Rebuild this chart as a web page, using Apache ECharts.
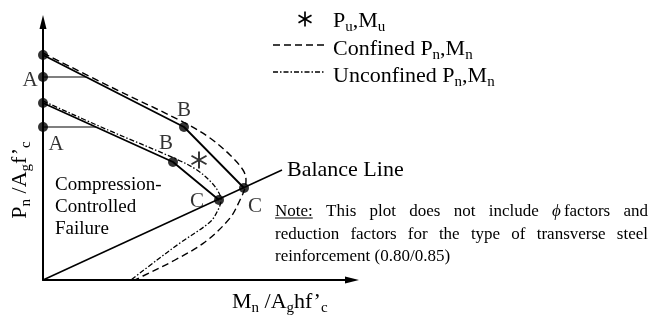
<!DOCTYPE html>
<html>
<head>
<meta charset="utf-8">
<script src="https://cdn.jsdelivr.net/npm/echarts@6/dist/echarts.min.js"></script>
<style>
html, body { margin: 0; padding: 0; background: #fff; }
#chart { width: 652px; height: 320px; }
</style>
</head>
<body>
<div id="chart"></div>
<script>
// P-M interaction sketch (no units on the axes)
const xMax = 3.09;
const yMax = 2.58;

// dashed curve, confined Pn,Mn
const confinedCurve = [[0, 2.27], [0.7, 1.92], [1.42, 1.57], [1.67, 1.42], [1.87, 1.25], [2.0, 1.10],
    [2.03, 1.0], [2.02, 0.92], [1.97, 0.80], [1.87, 0.62], [1.62, 0.38], [1.32, 0.20], [1.0, 0.04], [0.92, 0.0]];
// dash-dot curve, unconfined Pn,Mn
const unconfinedCurve = [[0, 1.79], [0.65, 1.5], [1.33, 1.21], [1.54, 1.10], [1.69, 0.97], [1.76, 0.87],
    [1.78, 0.80], [1.75, 0.70], [1.67, 0.58], [1.37, 0.37], [1.14, 0.20], [0.88, 0.0]];
// solid A-B-C lines
const upperSolid = [[0, 2.25], [1.41, 1.53], [2.01, 0.92]];
const lowerSolid = [[0, 1.77], [1.30, 1.18], [1.76, 0.80]];
const upperALine = [[0, 2.03], [0.43, 2.03]];
const lowerALine = [[0, 1.53], [0.53, 1.53]];
const balanceLine = [[0, 0], [2.39, 1.10]];
// marked points and their letters
const keyPoints = [[0, 2.25], [0, 2.03], [0, 1.77], [0, 1.53], [1.41, 1.53], [2.01, 0.92], [1.30, 1.18], [1.76, 0.80]];
const keyLetters = ['', 'A', '', 'A', 'B', 'C', 'B', 'C'];
const puMu = [[1.56, 1.20]];

const noteLines = [
    ['Note:', 'This', 'plot', 'does', 'not', 'include', 'PHIfactors', 'and'],
    ['reduction', 'factors', 'for', 'the', 'type', 'of', 'transverse', 'steel'],
    ['reinforcement (0.80/0.85)']
];

const serif = '"Liberation Serif", "Times New Roman", serif';
const letterOffsets = [null, [-13, 3], null, [13, 17], [0, -17], [11, 18], [-7, -19], [-22, 1]];

// asterisk made of three bars
const starPath = 'M-0.9,-8 L0.9,-8 L0.9,8 L-0.9,8 Z ' +
    'M6.48,4.78 L-7.38,-3.22 L-6.48,-4.78 L7.38,3.22 Z ' +
    'M-7.38,3.22 L6.48,-4.78 L7.38,-3.22 L-6.48,4.78 Z';

let chartDom = document.getElementById('chart');
let myChart = echarts.init(chartDom);

let subRich = {
    m: { fontFamily: serif, fontSize: 22, lineHeight: 28, color: '#000' },
    s: { fontFamily: serif, fontSize: 15, lineHeight: 16, verticalAlign: 'bottom', color: '#000' }
};

// justified note text, words placed one by one
let ctx = document.createElement('canvas').getContext('2d');
function textWidth(t, italic) {
    ctx.font = (italic ? 'italic ' : '') + '17px ' + serif;
    return ctx.measureText(t).width;
}
let noteGraphics = [];
let noteLeft = 275, noteRight = 648, noteTop = 212, noteStep = 22.5;
noteLines.forEach(function(words, li) {
    let y = noteTop + li * noteStep;
    let widths = words.map(function(w) {
        return w.indexOf('PHI') === 0 ? textWidth('ϕ', true) + 3 + textWidth(w.slice(3)) : textWidth(w);
    });
    let total = widths.reduce(function(a, b) { return a + b; }, 0);
    let gap = words.length > 1 ? (noteRight - noteLeft - total) / (words.length - 1) : 0;
    let x = noteLeft;
    words.forEach(function(w, wi) {
        let txt = w.indexOf('PHI') === 0 ? '{i|ϕ}{n|' + w.slice(3) + '}' : '{n|' + w + '}';
        noteGraphics.push({
            type: 'text', x: x, y: y,
            style: {
                text: txt, verticalAlign: 'middle',
                rich: {
                    n: { fontFamily: serif, fontSize: 17, color: '#000' },
                    i: { fontFamily: serif, fontSize: 17, fontStyle: 'italic', color: '#000', padding: [0, 3, 0, 0] }
                }
            }
        });
        if (w === 'Note:') {
            noteGraphics.push({
                type: 'line', shape: { x1: x, y1: y + 6, x2: x + widths[wi], y2: y + 6 },
                style: { stroke: '#000', lineWidth: 1 }
            });
        }
        x += widths[wi] + gap;
    });
});

// legend asterisk from three strokes
let legendStar = [90, 30, 150].map(function(a) {
    let r = a * Math.PI / 180, cx = 305, cy = 19, h = 7.5;
    return {
        type: 'line',
        shape: { x1: cx - h * Math.cos(r), y1: cy - h * Math.sin(r), x2: cx + h * Math.cos(r), y2: cy + h * Math.sin(r) },
        style: { stroke: '#000', lineWidth: 1.7 }
    };
});

function plainLine(data, dash, width) {
    return {
        type: 'line', data: data, symbol: 'none', silent: true,
        lineStyle: { color: '#000', width: width, type: dash }
    };
}

let option = {
    animation: false,
    backgroundColor: '#fff',
    grid: { left: 43, right: 300, top: 22, bottom: 40 },
    xAxis: {
        type: 'value', min: 0, max: xMax,
        axisLine: { show: true, symbol: ['none', 'triangle'], symbolSize: [7, 14], lineStyle: { color: '#000', width: 2 } },
        axisTick: { show: false }, axisLabel: { show: false }, splitLine: { show: false }
    },
    yAxis: {
        type: 'value', min: 0, max: yMax,
        axisLine: { show: true, symbol: ['none', 'triangle'], symbolSize: [7, 14], lineStyle: { color: '#000', width: 2 } },
        axisTick: { show: false }, axisLabel: { show: false }, splitLine: { show: false }
    },
    series: [
        Object.assign(plainLine(confinedCurve, [7, 4], 1.4), { smooth: 0.35 }),
        Object.assign(plainLine(unconfinedCurve, [5, 2, 1.5, 2], 1.3), { smooth: 0.35 }),
        plainLine(upperSolid, 'solid', 1.8),
        plainLine(lowerSolid, 'solid', 1.8),
        plainLine(upperALine, 'solid', 1.2),
        plainLine(lowerALine, 'solid', 1.2),
        Object.assign(plainLine(balanceLine, 'solid', 1.5), {
            endLabel: { show: true, formatter: 'Balance Line', fontFamily: serif, fontSize: 22, color: '#000', distance: 5 }
        }),
        {
            type: 'scatter', symbol: 'circle', symbolSize: 10, silent: true,
            itemStyle: { color: '#000' },
            data: keyPoints.map(function(p, i) {
                return {
                    value: p,
                    label: {
                        show: keyLetters[i] !== '', formatter: keyLetters[i], position: 'inside',
                        offset: letterOffsets[i] || [0, 0], fontFamily: serif, fontSize: 21, color: '#000'
                    }
                };
            })
        },
        {
            type: 'scatter', symbol: 'path://' + starPath, symbolSize: [16, 17], silent: true,
            itemStyle: { color: '#000' }, data: puMu
        }
    ],
    graphic: legendStar.concat([
        { type: 'line', shape: { x1: 273, y1: 45, x2: 325, y2: 45 }, style: { stroke: '#000', lineWidth: 1.3, lineDash: [7, 4] } },
        { type: 'line', shape: { x1: 273, y1: 72, x2: 325, y2: 72 }, style: { stroke: '#000', lineWidth: 1.3, lineDash: [5, 2, 1.5, 2] } },
        { type: 'text', x: 333, y: 21, style: { text: '{m|P}{s|u}{m|,M}{s|u}', rich: subRich, verticalAlign: 'middle' } },
        { type: 'text', x: 333, y: 49, style: { text: '{m|Confined P}{s|n}{m|,M}{s|n}', rich: subRich, verticalAlign: 'middle' } },
        { type: 'text', x: 333, y: 76, style: { text: '{m|Unconfined P}{s|n}{m|,M}{s|n}', rich: subRich, verticalAlign: 'middle' } },
        {
            type: 'text', x: 55, y: 174,
            style: { text: 'Compression-\nControlled\nFailure', fontFamily: serif, fontSize: 19, lineHeight: 22, fill: '#000', verticalAlign: 'top' }
        },
        { type: 'text', x: 232, y: 302, style: { text: '{m|M}{s|n}{m| /A}{s|g}{m|hf’}{s|c}', rich: subRich, verticalAlign: 'middle' } },
        {
            type: 'text', x: 20, y: 180, rotation: Math.PI / 2,
            style: { text: '{m|P}{s|n}{m| /A}{s|g}{m|f’}{s|c}', rich: subRich, align: 'center', verticalAlign: 'middle' }
        }
    ]).concat(noteGraphics)
};
myChart.setOption(option);
window.addEventListener('resize', function() {
    myChart.resize();
});
</script>
</body>
</html>
